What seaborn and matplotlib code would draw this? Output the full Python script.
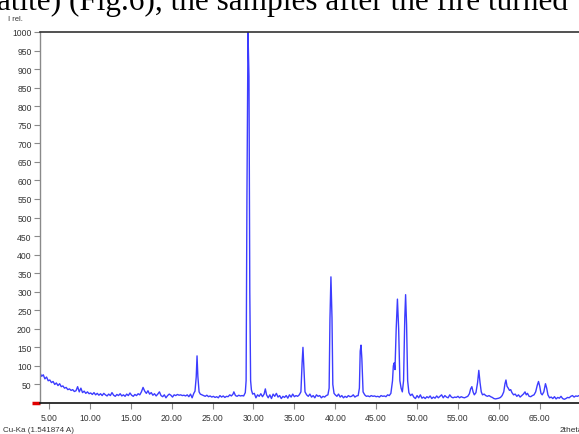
import matplotlib
matplotlib.use("Agg")
import matplotlib.pyplot as plt
import seaborn as sns
import pandas as pd

# Powder diffraction scan, Cu-Ka radiation: 2-theta (deg) vs relative intensity
two_theta = [
    3.9, 4.1, 4.3, 4.5, 4.7, 4.9, 5.1, 5.3, 5.5, 5.7, 5.9, 6.1, 6.3, 6.5, 6.7, 6.9,
    7.1, 7.3, 7.5, 7.7, 7.9, 8.1, 8.3, 8.5, 8.7, 8.9, 9.1, 9.3, 9.5, 9.7, 9.9,
    10.1, 10.3, 10.5, 10.7, 10.9, 11.1, 11.3, 11.5, 11.7, 11.9, 12.1, 12.3, 12.5,
    12.7, 12.9, 13.1, 13.3, 13.5, 13.7, 13.9, 14.1, 14.3, 14.5, 14.7, 14.9,
    15.1, 15.3, 15.5, 15.7, 15.9, 16.1, 16.3, 16.5, 16.7, 16.9, 17.1, 17.3, 17.5,
    17.7, 17.9, 18.1, 18.3, 18.5, 18.7, 18.9, 19.1, 19.3, 19.5, 19.7, 19.9,
    20.1, 20.3, 20.5, 20.7, 20.9, 21.1, 21.3, 21.5, 21.7, 21.9, 22.1, 22.3, 22.5,
    22.7, 22.85, 23.0, 23.1, 23.2, 23.35, 23.5, 23.7, 23.9, 24.1, 24.3, 24.5,
    24.7, 24.9, 25.1, 25.3, 25.5, 25.7, 25.9, 26.1, 26.3, 26.5, 26.7, 26.9,
    27.1, 27.3, 27.5, 27.6, 27.8, 28.0, 28.2, 28.4, 28.6, 28.8, 29.0, 29.1,
    29.2, 29.33, 29.45, 29.55, 29.65, 29.75, 29.9, 30.1, 30.3, 30.5, 30.7, 30.9,
    31.1, 31.3, 31.45, 31.6, 31.8, 32.0, 32.2, 32.4, 32.6, 32.8, 33.0, 33.2,
    33.4, 33.6, 33.8, 34.0, 34.2, 34.4, 34.6, 34.8, 35.0, 35.2, 35.4, 35.6,
    35.8, 35.95, 36.05, 36.15, 36.3, 36.5, 36.7, 36.9, 37.1, 37.3, 37.5, 37.7,
    37.9, 38.1, 38.3, 38.5, 38.7, 38.9, 39.1, 39.25, 39.35, 39.47, 39.6, 39.7,
    39.85, 40.0, 40.2, 40.4, 40.6, 40.8, 41.0, 41.2, 41.4, 41.6, 41.8, 42.0,
    42.2, 42.4, 42.6, 42.8, 42.95, 43.05, 43.15, 43.25, 43.4, 43.6, 43.8, 44.0,
    44.2, 44.4, 44.6, 44.8, 45.0, 45.2, 45.4, 45.6, 45.8, 46.0, 46.2, 46.4,
    46.6, 46.8, 47.0, 47.1, 47.2, 47.3, 47.45, 47.6, 47.75, 47.9, 48.05, 48.2,
    48.35, 48.5, 48.6, 48.72, 48.85, 49.0, 49.2, 49.4, 49.6, 49.8, 50.0, 50.2,
    50.4, 50.6, 50.8, 51.0, 51.2, 51.4, 51.6, 51.8, 52.0, 52.2, 52.4, 52.6,
    52.8, 53.0, 53.2, 53.4, 53.6, 53.8, 54.0, 54.2, 54.4, 54.6, 54.8, 55.0,
    55.2, 55.4, 55.6, 55.8, 56.0, 56.2, 56.4, 56.55, 56.7, 56.85, 57.0, 57.2,
    57.4, 57.55, 57.7, 57.85, 58.0, 58.2, 58.4, 58.6, 58.8, 59.0, 59.2, 59.4,
    59.6, 59.8, 60.0, 60.2, 60.4, 60.6, 60.75, 60.87, 61.0, 61.15, 61.3, 61.45,
    61.6, 61.8, 62.0, 62.2, 62.4, 62.6, 62.8, 63.0, 63.2, 63.35, 63.5, 63.7,
    63.9, 64.1, 64.3, 64.5, 64.7, 64.85, 65.0, 65.15, 65.3, 65.5, 65.7, 65.85,
    66.0, 66.2, 66.4, 66.6, 66.8, 67.0, 67.2, 67.4, 67.6, 67.8, 68.0, 68.2,
    68.4, 68.6, 68.8, 69.0, 69.2, 69.4, 69.6, 69.8,
]
intensity = [
    81, 72, 76, 65, 70, 60, 62, 55, 58, 50, 54, 47, 52, 44, 46, 40,
    42, 36, 38, 34, 36, 31, 33, 44, 30, 40, 28, 32, 26, 30, 25,
    27, 23, 28, 22, 26, 21, 25, 20, 26, 22, 19, 24, 20,
    28, 21, 18, 23, 20, 25, 19, 22, 18, 24, 20, 27,
    21, 18, 23, 20, 25, 22, 30, 42, 32, 26, 33, 24, 28,
    21, 25, 19, 24, 30, 20, 17, 22, 14, 20, 24, 21,
    16, 22, 20, 23, 21, 22, 20, 21, 19, 22, 17, 24, 14,
    26, 32, 70, 127, 72, 30, 24, 22, 20, 18, 21, 17,
    19, 16, 18, 15, 17, 14, 20, 16, 19, 15, 18, 17,
    22, 19, 24, 30, 20, 18, 21, 19, 20, 19, 28, 60,
    550, 1000, 880, 300, 60, 35, 24, 26, 14, 22, 18, 25,
    17, 24, 38, 22, 14, 22, 12, 24, 18, 26, 16, 20,
    12, 18, 15, 20, 13, 22, 16, 24, 17, 20, 18, 22,
    30, 110, 150, 100, 30, 22, 18, 24, 16, 20, 14, 22,
    18, 20, 14, 18, 16, 20, 22, 40, 225, 340, 230, 50,
    26, 22, 18, 24, 16, 20, 14, 18, 15, 20, 17, 18,
    22, 16, 19, 20, 40, 140, 156, 120, 30, 22, 18, 19,
    17, 20, 18, 19, 17, 18, 16, 20, 18, 19, 17, 22,
    20, 26, 60, 100, 108, 90, 200, 280, 200, 60, 40, 30,
    60, 230, 292, 210, 60, 28, 20, 24, 16, 12, 20, 14,
    22, 13, 16, 12, 17, 14, 19, 12, 16, 13, 19, 14,
    18, 22, 14, 20, 16, 14, 22, 16, 14, 16, 15, 18,
    14, 17, 15, 14, 16, 18, 25, 38, 44, 30, 22, 28,
    55, 88, 55, 30, 22, 24, 20, 18, 20, 17, 15, 12,
    11, 12, 13, 15, 20, 30, 52, 62, 45, 40, 34, 36,
    28, 22, 24, 18, 22, 16, 20, 24, 30, 22, 26, 18,
    17, 20, 22, 30, 48, 58, 45, 26, 22, 30, 52, 40,
    22, 14, 16, 12, 17, 11, 15, 13, 18, 12, 10, 12,
    15, 14, 18, 20, 16, 19, 18, 20,
]
assert len(two_theta) == len(intensity)

x_ticks = [5, 10, 15, 20, 25, 30, 35, 40, 45, 50, 55, 60, 65]
y_ticks = list(range(50, 1001, 50))

df = pd.DataFrame({"two_theta": two_theta, "intensity": intensity})

sns.set_style("white")
plt.rcParams["font.family"] = ["Liberation Sans Narrow", "Liberation Sans", "DejaVu Sans"]

W, H = 579, 435
fig = plt.figure(figsize=(W / 100, H / 100), dpi=100)
ax = fig.add_axes([40 / W, (H - 404) / H, (W - 40) / W, (404 - 33) / H])

sns.lineplot(data=df, x="two_theta", y="intensity", ax=ax, sort=False,
             estimator=None, color="#3c3cff", linewidth=1.0)

ax.set_xlim(3.9, 69.8)
ax.set_ylim(0, 1000)
ax.set_xticks(x_ticks)
ax.set_xticklabels([f"{v:.2f}" for v in x_ticks])
ax.set_yticks(y_ticks)
ax.set_yticklabels([str(v) for v in y_ticks])
ax.set_xlabel("")
ax.set_ylabel("")

ax.spines["right"].set_visible(False)
ax.spines["top"].set_color("#333333")
ax.spines["top"].set_linewidth(1.2)
ax.spines["left"].set_color("#8a8a8a")
ax.spines["left"].set_linewidth(1.0)
ax.spines["bottom"].set_color("#111111")
ax.spines["bottom"].set_linewidth(1.2)

ax.tick_params(axis="both", which="major", direction="out", length=4, width=0.8,
               color="#8a8a8a", labelsize=6.2, labelcolor="#333333", pad=2)
ax.tick_params(axis="x", bottom=True, pad=3)
ax.tick_params(axis="y", left=True)

# red zero marker on the baseline
ax.plot([-0.015, 0.0], [0, 0], transform=ax.transAxes, color="#e00000",
        linewidth=2.5, clip_on=False, solid_capstyle="butt")

fig.text(8 / W, 1 - 21 / H, "I rel.", fontsize=5.5, color="#333333", va="baseline")
fig.text(3 / W, 1 - 432 / H, "Cu-Ka (1.541874 A)", fontsize=5.8, color="#333333",
         va="baseline")
fig.text(560 / W, 1 - 432 / H, "2theta", fontsize=6, color="#333333", va="baseline")

# running text of the page, clipped at the top edge
fig.text(-3 / W, 1 - 10 / H, "atite) (Fig.6), the samples after the fire turned",
         fontsize=22.5, family=["Liberation Serif", "DejaVu Serif"], color="black",
         va="baseline")

fig.savefig("out.png", dpi=100)
